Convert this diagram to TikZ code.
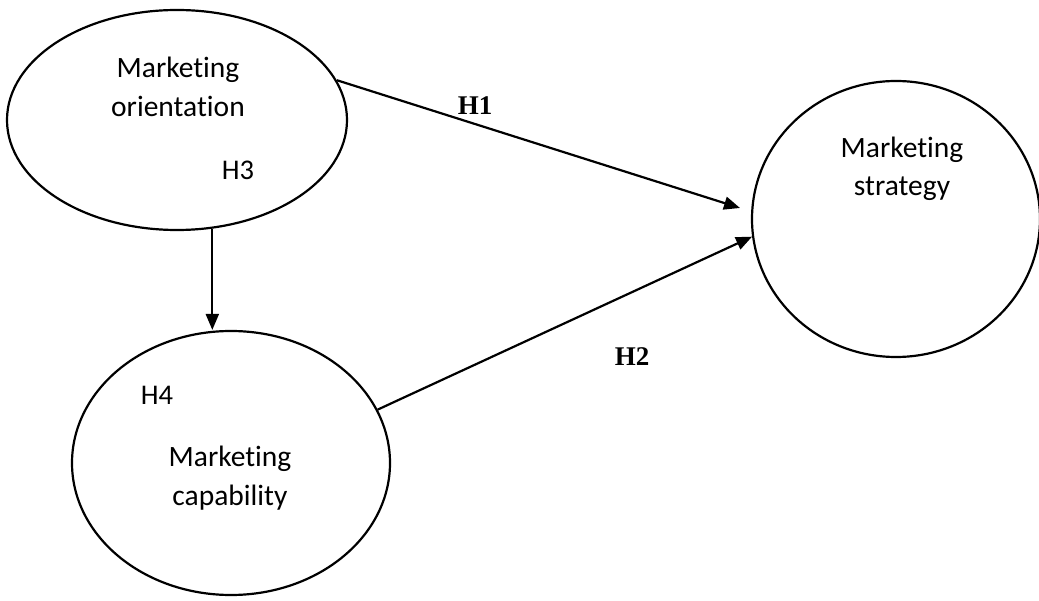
\documentclass[tikz,border=0pt]{standalone}
\usepackage{fontspec}
\setmainfont[Ligatures={NoCommon}]{Carlito}
\newfontfamily\hfont{Liberation Serif}
\usepackage{xcolor}
\usepackage{tikz}
\usetikzlibrary{positioning,arrows.meta,shapes.geometric}

\tikzset{
  construct/.style={draw, ellipse, line width=2.2pt, inner sep=0pt},
  conname/.style={anchor=base, align=center, font=\fontsize{29.5}{38}\selectfont},
  hyplabel/.style={anchor=base, font=\fontsize{28.5}{34}\selectfont},
  hypbold/.style={anchor=base, font=\hfont\bfseries\fontsize{27}{32}\selectfont},
  path/.style={line width=2.2pt, -{Triangle[length=16pt,width=13pt]}}
}

\begin{document}
\begin{tikzpicture}[x=1pt, y=-1pt]
\useasboundingbox (0,0) rectangle (1039,601);

\node[construct, minimum width=340pt, minimum height=220pt] (orient) at (177,120) {};
\node[construct, minimum width=288pt, minimum height=276pt] (strat) at (896,219) {};
\node[construct, minimum width=318pt, minimum height=264pt] (capab) at (231,463) {};

\node[conname] (orient_a) at (178,78) {Marketing};
\node[conname] (orient_b) at (178,117) {orientation};
\node[conname] (strat_a) at (902,158) {Marketing};
\node[conname] (strat_b) at (902,196) {strategy};
\node[conname] (capab_a) at (230,467) {Marketing};
\node[conname] (capab_b) at (230,505) {capability};

\node[hyplabel] (h3) at (238,180) {H3};
\node[hyplabel] (h4) at (157,405) {H4};
\node[hypbold] (h1) at (475,115) {H1};
\node[hypbold] (h2) at (632,366) {H2};

\coordinate (h1_end) at (740,208);

\draw[path] (orient.14) -- (h1_end);
\draw[path] (capab.20) -- (strat.187);
\draw[path] (orient.288) -- (orient.288 |- capab.north);

\end{tikzpicture}
\end{document}
